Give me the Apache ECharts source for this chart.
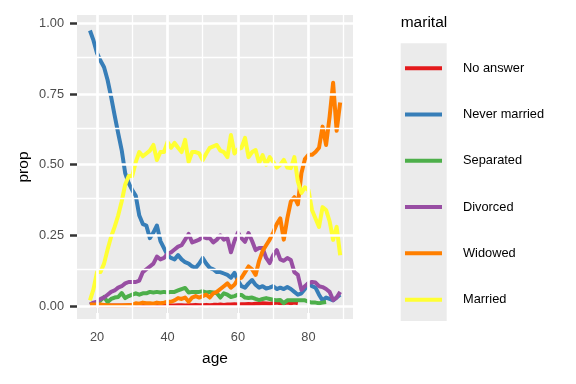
<!DOCTYPE html>
<html>
<head>
<meta charset="utf-8">
<script src="https://cdn.jsdelivr.net/npm/echarts@6/dist/echarts.min.js"></script>
<style>
html, body { margin: 0; padding: 0; background: #fff; }
#chart { width: 576px; height: 384px; }
</style>
</head>
<body>
<div id="chart"></div>
<script>
// proportion of each marital status by age
var ages = [18, 19, 20, 21, 22, 23, 24, 25, 26, 27, 28, 29, 30, 31, 32, 33, 34, 35, 36, 37,
  38, 39, 40, 41, 42, 43, 44, 45, 46, 47, 48, 49, 50, 51, 52, 53, 54, 55, 56, 57,
  58, 59, 60, 61, 62, 63, 64, 65, 66, 67, 68, 69, 70, 71, 72, 73, 74, 75, 76, 77,
  78, 79, 80, 81, 82, 83, 84, 85, 86, 87, 88, 89];

var noAnswer = [0.003, 0.003, 0.002, 0.002, 0.002, 0.002, 0.002, 0.002, 0.002, 0.002,
  0.002, 0.003, 0.003, 0.002, 0.002, 0.002, 0.002, 0.003, 0.002, 0.002,
  0.002, 0.002, 0.003, 0.002, 0.002, 0.003, 0.003, 0.002, 0.003, 0.003,
  0.004, 0.003, 0.003, 0.004, 0.003, 0.004, 0.004, 0.005, 0.004, 0.005,
  0.005, 0.006, 0.005, 0.006, 0.006, 0.007, 0.006, 0.008, 0.008, 0.010,
  0.009, 0.008, 0.010, 0.012, 0.010, 0.010, 0.012, 0.010, 0.012, 0.010,
  null, null, null, null, null, null, null, null, null, null, null, null];

var neverMarried = [0.975, 0.94, 0.895, 0.868, 0.845, 0.80, 0.74, 0.675, 0.612, 0.552,
  0.47, 0.435, 0.41, 0.39, 0.32, 0.29, 0.285, 0.24, 0.26, 0.285,
  0.23, 0.205, 0.18, 0.17, 0.165, 0.18, 0.165, 0.155, 0.15, 0.14,
  0.135, 0.15, 0.17, 0.15, 0.135, 0.13, 0.12, 0.12, 0.115, 0.11,
  0.10, 0.117, 0.09, 0.07, 0.065, 0.08, 0.092, 0.075, 0.065, 0.07,
  0.062, 0.065, 0.07, 0.06, 0.065, 0.06, 0.067, 0.06, 0.05, 0.04,
  0.045, 0.06, 0.08, 0.07, 0.065, 0.04, 0.02, 0.03, 0.025, 0.02, 0.03, 0.04];

var separated = [0.005, 0.008, 0.01, 0.02, 0.032, 0.014, 0.025, 0.03, 0.032, 0.046,
  0.028, 0.035, 0.04, 0.045, 0.04, 0.045, 0.045, 0.05, 0.048, 0.05,
  0.048, 0.05, 0.048, 0.05, 0.05, 0.055, 0.06, 0.064, 0.048, 0.05,
  0.05, 0.05, 0.052, 0.048, 0.05, 0.048, 0.045, 0.03, 0.045, 0.04,
  0.032, 0.035, 0.04, 0.039, 0.03, 0.028, 0.03, 0.025, 0.021, 0.025,
  0.028, 0.025, 0.022, 0.02, 0.021, 0.01, 0.02, 0.02, 0.02, 0.02,
  0.02, 0.02, 0.015, 0.012, 0.012, 0.01, 0.012, 0.014, null, null, null, null];

var divorced = [0.005, 0.012, 0.015, 0.025, 0.03, 0.04, 0.05, 0.055, 0.065, 0.07,
  0.08, 0.085, 0.085, 0.085, 0.09, 0.12, 0.13, 0.14, 0.15, 0.175,
  0.165, 0.17, 0.185, 0.19, 0.20, 0.21, 0.215, 0.235, 0.255, 0.225,
  0.23, 0.235, 0.245, 0.24, 0.24, 0.225, 0.235, 0.25, 0.235, 0.24,
  0.19, 0.23, 0.26, 0.24, 0.227, 0.258, 0.23, 0.198, 0.205, 0.205,
  0.17, 0.152, 0.18, 0.198, 0.165, 0.16, 0.17, 0.163, 0.12, 0.11,
  0.057, 0.07, 0.081, 0.085, 0.083, 0.07, 0.067, 0.06, 0.05, 0.021, 0.03, 0.05];

var widowed = [0.005, 0.005, 0.005, 0.005, 0.004, 0.003, 0.002, 0.002, 0.002, 0.002,
  0.003, 0.003, 0.004, 0.01, 0.008, 0.012, 0.01, 0.01, 0.008, 0.012,
  0.01, 0.012, 0.015, 0.015, 0.02, 0.028, 0.025, 0.03, 0.015, 0.03,
  0.035, 0.03, 0.035, 0.04, 0.03, 0.045, 0.05, 0.06, 0.07, 0.08,
  0.065, 0.075, 0.095, 0.10, 0.12, 0.14, 0.13, 0.11, 0.16, 0.195,
  0.215, 0.235, 0.26, 0.29, 0.31, 0.235, 0.31, 0.37, 0.385, 0.36,
  0.47, 0.52, 0.535, 0.535, 0.545, 0.56, 0.635, 0.57, 0.67, 0.79, 0.62, 0.72];

var married = [0.02, 0.06, 0.12, 0.12, 0.15, 0.20, 0.245, 0.28, 0.32, 0.37,
  0.43, 0.46, 0.46, 0.51, 0.545, 0.53, 0.54, 0.55, 0.57, 0.517,
  0.545, 0.545, 0.58, 0.56, 0.577, 0.56, 0.545, 0.588, 0.51, 0.545,
  0.545, 0.54, 0.517, 0.54, 0.56, 0.565, 0.57, 0.55, 0.545, 0.527,
  0.605, 0.54, 0.555, 0.56, 0.595, 0.527, 0.545, 0.552, 0.506, 0.534,
  0.50, 0.527, 0.51, 0.49, 0.50, 0.517, 0.49, 0.488, 0.527, 0.44,
  0.40, 0.42, 0.41, 0.34, 0.31, 0.28, 0.35, 0.34, 0.30, 0.234, 0.28, 0.18];

var statusNames = ['No answer', 'Never married', 'Separated', 'Divorced', 'Widowed', 'Married'];
var statusValues = [noAnswer, neverMarried, separated, divorced, widowed, married];
var colors = ['#E41A1C', '#377EB8', '#4DAF4A', '#984EA3', '#FF7F00', '#FFFF33'];

var xTicks = [20, 40, 60, 80];
var xMinor = [30, 50, 70, 90];
var yTicks = [0, 0.25, 0.5, 0.75, 1];
var yMinor = [0.125, 0.375, 0.625, 0.875];

var font = "'Liberation Sans', Arial, sans-serif";

function pairs(vals) {
  var out = [];
  for (var i = 0; i < ages.length; i++) {
    if (vals[i] != null) out.push([ages[i], vals[i]]);
  }
  return out;
}

var gridLines = [];
xMinor.forEach(function (v) { gridLines.push({ xAxis: v, lineStyle: { width: 1.3 } }); });
yMinor.forEach(function (v) { gridLines.push({ yAxis: v, lineStyle: { width: 1.3 } }); });
xTicks.forEach(function (v) { gridLines.push({ xAxis: v, lineStyle: { width: 2.7 } }); });
yTicks.forEach(function (v) { gridLines.push({ yAxis: v, lineStyle: { width: 2.7 } }); });

var series = [{
  type: 'line',
  name: 'grid',
  data: [],
  z: 1,
  silent: true,
  markLine: {
    silent: true,
    symbol: ['none', 'none'],
    label: { show: false },
    animation: false,
    lineStyle: { color: '#FFFFFF', type: 'solid', opacity: 1 },
    data: gridLines
  }
}];

statusNames.forEach(function (name, i) {
  series.push({
    type: 'line',
    name: name,
    data: pairs(statusValues[i]),
    color: colors[i],
    showSymbol: false,
    symbol: 'none',
    z: 3,
    lineStyle: { width: 4, color: colors[i], join: 'round' },
    emphasis: { disabled: true }
  });
});

var chart = echarts.init(document.getElementById('chart'), null, { renderer: 'canvas' });
chart.setOption({
  animation: false,
  grid: {
    left: 77, top: 15, width: 276, height: 304,
    show: true, backgroundColor: '#EBEBEB', borderWidth: 0,
    outerBoundsMode: 'none'
  },
  xAxis: {
    type: 'value',
    min: 14.32, max: 92.64,
    name: 'age', nameLocation: 'middle', nameGap: 32,
    nameTextStyle: { fontFamily: font, fontSize: 15.5, color: '#000' },
    axisLine: { show: false },
    axisTick: { show: true, length: 7, lineStyle: { color: '#333333', width: 2.5 }, customValues: xTicks },
    axisLabel: { customValues: xTicks, margin: 12, fontFamily: font, fontSize: 12.8, color: '#4D4D4D' },
    splitLine: { show: false }
  },
  yAxis: {
    type: 'value',
    min: -0.046, max: 1.03,
    name: 'prop', nameLocation: 'middle', nameGap: 45, nameRotate: 90,
    nameTextStyle: { fontFamily: font, fontSize: 15.5, color: '#000' },
    axisLine: { show: false },
    axisTick: { show: true, length: 7, lineStyle: { color: '#333333', width: 2.5 }, customValues: yTicks },
    axisLabel: {
      customValues: yTicks, margin: 13, fontFamily: font, fontSize: 12.8, color: '#4D4D4D',
      formatter: function (v) { return v.toFixed(2); }
    },
    splitLine: { show: false }
  },
  legend: {
    orient: 'vertical',
    left: 405, top: 45,
    padding: 0, itemGap: 0,
    itemWidth: 37, itemHeight: 4,
    icon: 'rect',
    selectedMode: false,
    data: statusNames,
    textStyle: { fontFamily: font, fontSize: 12.8, color: '#000', lineHeight: 46.3, padding: [0, 0, 0, 16] }
  },
  graphic: [
    { type: 'rect', left: 400.7, top: 43.3, z: -1, shape: { width: 46, height: 277.7 }, style: { fill: '#EBEBEB' } },
    { type: 'text', left: 400.7, top: 15, style: { text: 'marital', font: '15.5px ' + font, fill: '#000' } }
  ],
  series: series
});
</script>
</body>
</html>
